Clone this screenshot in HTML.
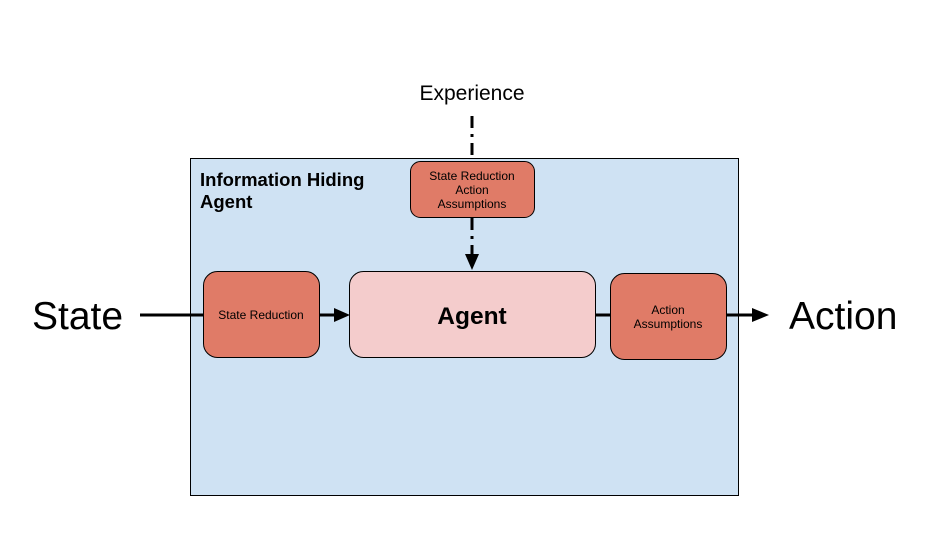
<!DOCTYPE html>
<html><head><style>
body{margin:0;background:#fff;width:933px;height:543px;overflow:hidden}
</style></head><body>
<svg width="933" height="543" viewBox="0 0 933 543" xmlns="http://www.w3.org/2000/svg" font-family="Liberation Sans, Arial, sans-serif">
<rect x="190.5" y="158.5" width="548" height="337" fill="#cfe2f3" stroke="#000" stroke-width="1"/>
<text x="200" y="186" font-size="18.5" font-weight="bold">Information Hiding</text>
<text x="200" y="208" font-size="18.5" font-weight="bold">Agent</text>
<text x="472" y="100" font-size="21" text-anchor="middle">Experience</text>
<line x1="472" y1="116" x2="472" y2="160" stroke="#000" stroke-width="3" stroke-dasharray="12,6,3,6"/>
<line x1="472" y1="218" x2="472" y2="256" stroke="#000" stroke-width="3" stroke-dasharray="12,6,3,6"/>
<polygon points="465,254 479,254 472,270" fill="#000"/>
<rect x="410.5" y="161.5" width="124" height="56" rx="10" fill="#e07b67" stroke="#000"/>
<text font-size="12" text-anchor="middle"><tspan x="472" y="180">State Reduction</tspan><tspan x="472" y="194">Action</tspan><tspan x="472" y="208">Assumptions</tspan></text>
<text x="32" y="329" font-size="39">State</text>
<text x="789" y="329" font-size="39">Action</text>
<line x1="140" y1="315" x2="204" y2="315" stroke="#000" stroke-width="3"/>
<line x1="319" y1="315" x2="336" y2="315" stroke="#000" stroke-width="3"/>
<polygon points="334,308 350,315 334,322" fill="#000"/>
<line x1="595" y1="315" x2="611" y2="315" stroke="#000" stroke-width="3"/>
<line x1="726" y1="315" x2="754" y2="315" stroke="#000" stroke-width="3"/>
<polygon points="752,308 769,315 752,322" fill="#000"/>
<rect x="203.5" y="271.5" width="116" height="86" rx="14" fill="#e07b67" stroke="#000"/>
<text x="261" y="319" font-size="12" text-anchor="middle">State Reduction</text>
<rect x="349.5" y="271.5" width="246" height="86" rx="14" fill="#f4cccc" stroke="#000"/>
<text x="472" y="324" font-size="24.5" font-weight="bold" text-anchor="middle">Agent</text>
<rect x="610.5" y="273.5" width="116" height="86" rx="14" fill="#e07b67" stroke="#000"/>
<text font-size="12" text-anchor="middle"><tspan x="668" y="314">Action</tspan><tspan x="668" y="328">Assumptions</tspan></text>
</svg>
</body></html>
